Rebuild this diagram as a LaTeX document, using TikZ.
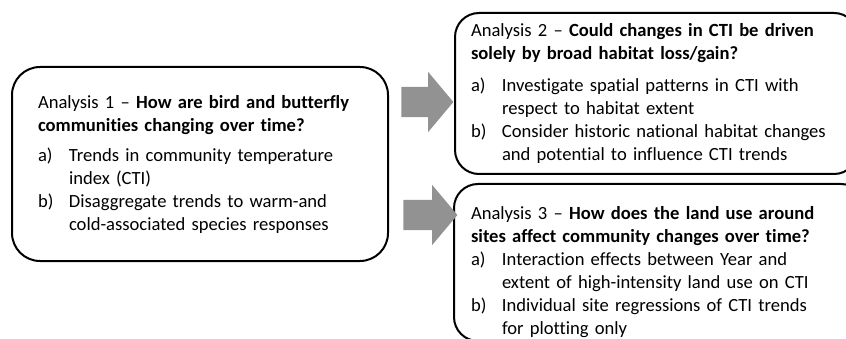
\documentclass[tikz,border=0pt]{standalone}
\usepackage{fontspec}
\setmainfont{Carlito}[Ligatures={TeX,NoCommon}]
\usepackage{tikz}
\usetikzlibrary{shapes.arrows}
\definecolor{arrowgrey}{RGB}{146,146,146}
\newcommand{\anitem}[3]{\makebox[31pt][l]{#1}#2\\\hspace*{31pt}#3}

\begin{document}
\begin{tikzpicture}[x=1pt,y=-1pt,
  abox/.style={draw=black, line width=2pt, align=left, inner ysep=0pt,
    font=\fontsize{18.6}{23}\selectfont},
  bigarrow/.style={shape=single arrow, fill=arrowgrey, draw=none, inner xsep=0pt,
    inner ysep=15pt, single arrow head extend=15pt, single arrow tip angle=100}]
\useasboundingbox (0,0) rectangle (846,339);
\clip (0,0) rectangle (846,339);

\node[abox, rounded corners=28pt, text width=324pt, inner xsep=26pt, minimum height=194pt](ana1) at (200,164) {%
Analysis 1 -- \textbf{How are bird and butterfly}\\
\textbf{communities changing over time?}\\[7pt]
\anitem{a)}{Trends in community temperature}{index (CTI)}\\
\anitem{b)}{Disaggregate trends to warm-and}{cold-associated species responses}};

\node[abox, rounded corners=24pt, text width=371pt, inner xsep=16pt, minimum height=161pt](ana2) at (656.5,93.5) {%
Analysis 2 -- \textbf{Could changes in CTI be driven}\\
\textbf{solely by broad habitat loss/gain?}\\[9pt]
\anitem{a)}{Investigate spatial patterns in CTI with}{respect to habitat extent}\\
\anitem{b)}{Consider historic national habitat changes}{and potential to influence CTI trends}};

% box runs past the page, the strut pushes its text down
\node[abox, rounded corners=24pt, text width=377pt, inner xsep=17pt, minimum height=157pt](ana3) at (659.5,262.5) {%
\rule{0pt}{32pt}Analysis 3 -- \textbf{How does the land use around}\\
\textbf{sites affect community changes over time?}\\
\anitem{a)}{Interaction effects between Year and}{extent of high-intensity land use on CTI}\\
\anitem{b)}{Individual site regressions of CTI trends}{for plotting only}};

\node[bigarrow, minimum height=52pt](arrA) at (421,102) {};
\node[bigarrow, minimum height=54pt](arrB) at (424,215) {};
\end{tikzpicture}
\end{document}
